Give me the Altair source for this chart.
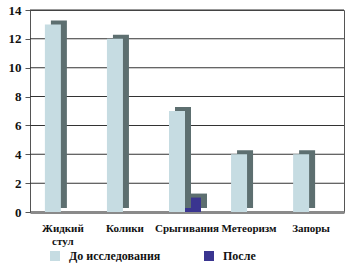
import altair as alt
import pandas as pd

categories = ["Жидкий стул", "Колики", "Срыгивания", "Метеоризм", "Запоры"]
series = ["До исследования", "После"]
before = [13, 12, 7, 4, 4]
after = [0, 0, 1, 0, 0]
y_ticks = [0, 2, 4, 6, 8, 10, 12, 14]

rows = []
for c, b, a in zip(categories, before, after):
    rows.append({"cat": c, "series": series[0], "value": b})
    rows.append({"cat": c, "series": series[1], "value": a})
df = pd.DataFrame(rows)
grid_df = pd.DataFrame({"value": y_ticks[1:]})

FONT = "Liberation Sans Narrow"
light = "#c6dce2"
dark = "#3a3590"
side = "#5d6f70"
W, H = 314, 202

x_enc = alt.X(
    "cat:N", sort=categories, title=None,
    scale=alt.Scale(paddingInner=0, paddingOuter=0.03),
    axis=alt.Axis(labelAngle=0, labelExpr="split(datum.label, ' ')",
                  labelFont=FONT, labelFontWeight="bold", labelFontSize=11,
                  labelColor="#111", labelPadding=10, ticks=False,
                  domainColor="#8a8a8a", domainWidth=3, labelLineHeight=13,
                  grid=False),
)
y_scale = alt.Scale(domain=[0, 14], nice=False)
y_axis = alt.Axis(values=y_ticks, grid=False, labelFont=FONT,
                  labelFontWeight="bold", labelFontSize=13, labelColor="#111",
                  domainColor="#555", tickColor="#555",
                  tickSize=5, labelPadding=4)
y_with_axis = alt.Y("value:Q", title=None, scale=y_scale, axis=y_axis)
y_no_axis = alt.Y("value:Q", title=None, scale=y_scale, axis=None)

color_enc = alt.Color(
    "series:N", sort=series,
    scale=alt.Scale(domain=series, range=[light, dark]),
    legend=alt.Legend(title=None, orient="none", direction="horizontal",
                      legendX=19, legendY=240, symbolType="square",
                      symbolSize=100, symbolStrokeWidth=0,
                      labelFont=FONT, labelFontWeight="bold",
                      labelFontSize=12, labelColor="#111",
                      columnPadding=42, labelOffset=8),
)

# gridlines drawn as thin horizontal ticks (filled rects)
grid = alt.Chart(grid_df).mark_tick(
    color="#333", orient="horizontal", size=W, thickness=1, opacity=1
).encode(y=y_no_axis)

before_data = alt.Chart(df).transform_filter(alt.datum.series == series[0])
after_data = alt.Chart(df).transform_filter(alt.datum.series == series[1])

dark_back = after_data.mark_bar(color=side, width=16, xOffset=12, yOffset=-4).encode(
    x=x_enc, y=y_no_axis)
dark_front = after_data.mark_bar(width=16, xOffset=6).encode(
    x=x_enc, y=y_no_axis, color=color_enc)
light_back = before_data.mark_bar(color=side, width=16, xOffset=-4, yOffset=-4).encode(
    x=x_enc, y=y_no_axis)
light_front = before_data.mark_bar(width=16, xOffset=-10).encode(
    x=x_enc, y=y_with_axis, color=color_enc)

chart = (
    alt.layer(grid, dark_back, dark_front, light_back, light_front)
    .resolve_axis(y="independent")
    .properties(width=W, height=H, background="white",
                padding={"left": 30, "top": 10, "right": 10, "bottom": 54},
                autosize=alt.AutoSizeParams(type="none"))
    .configure_view(stroke="#555", strokeWidth=1)
)

chart.save("out.html", embed_options={"renderer": "svg", "actions": False})
